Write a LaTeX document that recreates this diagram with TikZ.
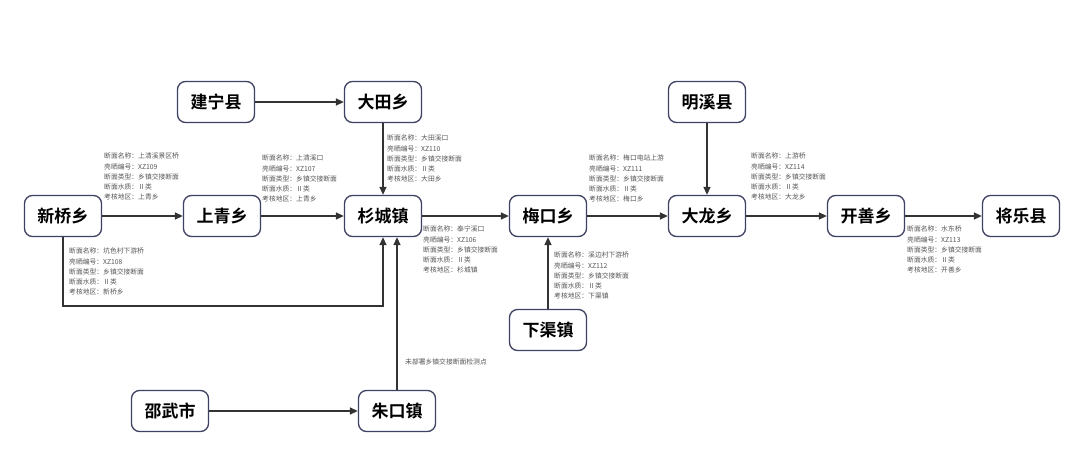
\documentclass[tikz,border=0pt]{standalone}
\usepackage{fontspec}
\setmainfont{Noto Sans CJK SC}[BoldFont={* Bold}]
\usetikzlibrary{arrows.meta}
\definecolor{nodeborder}{HTML}{3E4163}
\definecolor{arrowc}{HTML}{333333}
\definecolor{labelc}{HTML}{555555}
\tikzset{
  town/.style={draw=nodeborder, line width=1.3pt, rounded corners=8pt, fill=white,
    minimum width=77pt, minimum height=41pt, inner sep=0pt,
    font=\fontsize{17}{20}\selectfont\bfseries, text=black},
  flow/.style={draw=arrowc, line width=1.4pt, -{Triangle[length=8pt,width=7pt]}},
  info/.style={anchor=north west, inner sep=0pt, align=left, text=labelc,
    font=\fontsize{6.8}{10.2}\selectfont},
}
\begin{document}
\begin{tikzpicture}[x=1pt,y=-1pt]
\useasboundingbox (0,0) rectangle (1080,472);
% nodes
\node[town] (xinqiao) at (63,216) {新桥乡};
\node[town] (shangqing) at (222,216) {上青乡};
\node[town] (shancheng) at (383,216) {杉城镇};
\node[town] (meikou) at (548,216) {梅口乡};
\node[town] (dalong) at (707,216) {大龙乡};
\node[town] (kaishan) at (866,216) {开善乡};
\node[town] (jiangle) at (1021,216) {将乐县};
\node[town] (jianning) at (216,102) {建宁县};
\node[town] (datian) at (383,102) {大田乡};
\node[town] (mingxi) at (707,102) {明溪县};
\node[town] (xiaqu) at (548,330) {下渠镇};
\node[town] (shaowu) at (170,411) {邵武市};
\node[town] (zhukou) at (397,411) {朱口镇};
\coordinate (c1) at (63,306);
\coordinate (c2) at (383,306);
% connectors
\draw[flow] (xinqiao) -- (shangqing);
\draw[flow] (shangqing) -- (shancheng);
\draw[flow] (shancheng) -- (meikou);
\draw[flow] (meikou) -- (dalong);
\draw[flow] (dalong) -- (kaishan);
\draw[flow] (kaishan) -- (jiangle);
\draw[flow] (jianning) -- (datian);
\draw[flow] (datian) -- (shancheng);
\draw[flow] (mingxi) -- (dalong);
\draw[flow] (xiaqu) -- (meikou);
\draw[flow] (shaowu) -- (zhukou);
\draw[flow] (zhukou.north) -- (shancheng.south -| zhukou.north);
\draw[flow] (xinqiao.south) -- (c1) -- (c2) -- (shancheng.south);
% labels
\node[info] (l1) at (104,153) {断面名称：上清溪景区桥\\亮晒编号：XZ109\\断面类型：乡镇交接断面\\断面水质：Ⅱ类\\考核地区：上青乡};
\node[info] (l2) at (262,155) {断面名称：上清溪口\\亮晒编号：XZ107\\断面类型：乡镇交接断面\\断面水质：Ⅱ类\\考核地区：上青乡};
\node[info] (l3) at (387,135) {断面名称：大田溪口\\亮晒编号：XZ110\\断面类型：乡镇交接断面\\断面水质：Ⅱ类\\考核地区：大田乡};
\node[info] (l4) at (589,155) {断面名称：梅口电站上游\\亮晒编号：XZ111\\断面类型：乡镇交接断面\\断面水质：Ⅱ类\\考核地区：梅口乡};
\node[info] (l5) at (751,153) {断面名称：上游桥\\亮晒编号：XZ114\\断面类型：乡镇交接断面\\断面水质：Ⅱ类\\考核地区：大龙乡};
\node[info] (l6) at (907,226) {断面名称：水东桥\\亮晒编号：XZ113\\断面类型：乡镇交接断面\\断面水质：Ⅱ类\\考核地区：开善乡};
\node[info] (l7) at (69,248) {断面名称：坑色村下游桥\\亮晒编号：XZ108\\断面类型：乡镇交接断面\\断面水质：Ⅱ类\\考核地区：新桥乡};
\node[info] (l8) at (423,226) {断面名称：泰宁溪口\\亮晒编号：XZ106\\断面类型：乡镇交接断面\\断面水质：Ⅱ类\\考核地区：杉城镇};
\node[info] (l9) at (554,252) {断面名称：溪边村下游桥\\亮晒编号：XZ112\\断面类型：乡镇交接断面\\断面水质：Ⅱ类\\考核地区：下渠镇};
\node[info] (note) at (405,359) {未部署乡镇交接断面检测点};
\end{tikzpicture}
\end{document}
